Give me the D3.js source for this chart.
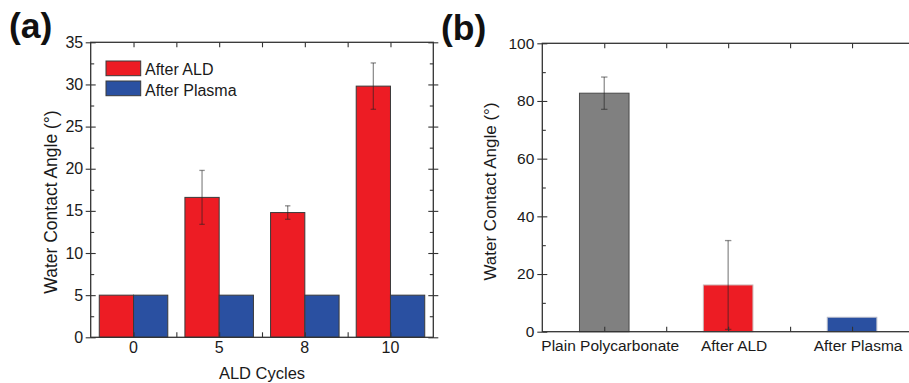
<!DOCTYPE html>
<html>
<head>
<meta charset="utf-8">
<script src="https://cdn.jsdelivr.net/npm/d3@7"></script>
<style>
  html, body { margin: 0; padding: 0; background: #fff; }
  svg { display: block; font-family: "Liberation Sans", Arial, sans-serif; }
</style>
</head>
<body>
<svg id="chart" width="909" height="383"></svg>
<script>
// Panel (a): contact angle vs. number of ALD cycles
const cycles = ["0", "5", "8", "10"];
const seriesNames = ["After ALD", "After Plasma"];
const afterALD = [5, 16.6, 14.8, 29.8];
const afterALDErr = [0, 3.2, 0.8, 2.75];
const afterPlasma = [5, 5, 5, 5];
const afterPlasmaErr = [0, 0, 0, 0];
const yTicksA = [0, 5, 10, 15, 20, 25, 30, 35];

// Panel (b): contact angle per sample
const samples = ["Plain Polycarbonate", "After ALD", "After Plasma"];
const sampleAngle = [82.7, 16.2, 5];
const sampleErr = [5.6, 15.4, 0];
const yTicksB = [0, 20, 40, 60, 80, 100];

const RED = "#ed1c24", BLUE = "#2a50a1", GRAY = "#808080";
const AXIS = "#333";

const svg = d3.select("#chart");

// Frame with ticks on all four sides: majors cross the left/right axes,
// minors point inward; top/bottom ticks point inward.
function drawFrame(g, x, y, box, yMajor, yMinor, xMajor, xMinor) {
  const {L, R, T, B} = box;
  const noLabel = () => "";
  const clean = sel => { sel.select(".domain").remove(); sel.selectAll("line").attr("stroke", AXIS).attr("stroke-width", 1.1); };
  g.append("g").attr("transform", `translate(${L},0)`).call(d3.axisRight(y).tickValues(yMajor).tickSize(5).tickFormat(noLabel)).call(clean);
  g.append("g").attr("transform", `translate(${L},0)`).call(d3.axisRight(y).tickValues(yMinor).tickSize(3.5).tickFormat(noLabel)).call(clean);
  g.append("g").attr("transform", `translate(${R},0)`).call(d3.axisLeft(y).tickValues(yMajor).tickSize(5).tickFormat(noLabel)).call(clean);
  g.append("g").attr("transform", `translate(${R},0)`).call(d3.axisRight(y).tickValues(yMajor).tickSize(5).tickFormat(noLabel)).call(clean);
  g.append("g").attr("transform", `translate(${R},0)`).call(d3.axisLeft(y).tickValues(yMinor).tickSize(3.5).tickFormat(noLabel)).call(clean);
  g.append("g").attr("transform", `translate(0,${T})`).call(d3.axisBottom(x).tickValues(xMajor.concat(xMinor)).tickSize(5).tickFormat(noLabel)).call(clean);
  g.append("g").attr("transform", `translate(0,${B})`).call(d3.axisTop(x).tickValues(xMajor.concat(xMinor)).tickSize(5).tickFormat(noLabel)).call(clean);
  g.append("rect").attr("x", L).attr("y", T).attr("width", R - L).attr("height", B - T)
    .attr("fill", "none").attr("stroke", AXIS).attr("stroke-width", 1.3);
}

function errorBar(g, cx, yScale, v, e, half) {
  if (!e) return;
  const top = yScale(v + e), bot = yScale(v - e);
  const eb = g.append("g").attr("stroke", "#222").attr("stroke-opacity", 0.5).attr("stroke-width", 1.3);
  eb.append("line").attr("x1", cx).attr("x2", cx).attr("y1", top).attr("y2", bot);
  eb.append("line").attr("x1", cx - half).attr("x2", cx + half).attr("y1", top).attr("y2", top);
  eb.append("line").attr("x1", cx - half).attr("x2", cx + half).attr("y1", bot).attr("y2", bot);
}

// ---------------- Panel (a) ----------------
{
  const box = {L: 90.7, R: 433.3, T: 42.3, B: 337.3};
  const g = svg.append("g");
  const x = d3.scaleBand().domain(cycles).range([box.L, box.R]).paddingInner(0.2).paddingOuter(0.1);
  const xs = d3.scaleBand().domain(seriesNames).range([0, x.bandwidth()]);
  const y = d3.scaleLinear().domain([0, 35]).range([box.B, box.T]);

  const series = [
    {name: seriesNames[0], values: afterALD, err: afterALDErr, color: RED},
    {name: seriesNames[1], values: afterPlasma, err: afterPlasmaErr, color: BLUE}
  ];

  series.forEach(s => {
    g.append("g").selectAll("rect").data(cycles).join("rect")
      .attr("x", c => x(c) + xs(s.name))
      .attr("y", (c, i) => y(s.values[i]))
      .attr("width", xs.bandwidth())
      .attr("height", (c, i) => y(0) - y(s.values[i]))
      .attr("fill", s.color).attr("stroke", "#3a3a3a").attr("stroke-width", 1);
  });
  series.forEach(s => {
    cycles.forEach((c, i) => errorBar(g, x(c) + xs(s.name) + xs.bandwidth() / 2, y, s.values[i], s.err[i], 2.7));
  });

  // tick positions along x: category centres and the midpoints between them
  const step = x.step();
  const centres = cycles.map(c => x(c) + x.bandwidth() / 2);
  const mids = centres.slice(1).map(c => c - step / 2);
  const xl = d3.scaleLinear().domain([box.L, box.R]).range([box.L, box.R]);
  const yMinor = d3.range(2.5, 35, 5);
  drawFrame(g, xl, y, box, yTicksA, yMinor, centres, mids);

  // y tick labels
  g.append("g").attr("transform", `translate(${box.L},0)`)
    .call(d3.axisLeft(y).tickValues(yTicksA).tickSize(5).tickPadding(2.5))
    .call(sel => { sel.select(".domain").remove(); sel.selectAll("line").attr("stroke", AXIS).attr("stroke-width", 1.1); })
    .selectAll("text").attr("font-size", 16).attr("fill", "#1a1a1a").attr("font-family", null);

  // x tick labels
  g.append("g").attr("transform", `translate(0,${box.B})`)
    .call(d3.axisBottom(x).tickSize(0).tickPadding(4.8))
    .call(sel => sel.select(".domain").remove())
    .selectAll("text").attr("font-size", 16).attr("fill", "#1a1a1a").attr("font-family", null);

  g.append("text").attr("x", (box.L + box.R) / 2).attr("y", 379)
    .attr("text-anchor", "middle").attr("font-size", 16.5).attr("fill", "#1a1a1a").text("ALD Cycles");
  g.append("text").attr("transform", "translate(57,202) rotate(-90)")
    .attr("text-anchor", "middle").attr("font-size", 17.5).attr("fill", "#1a1a1a").text("Water Contact Angle (°)");

  // legend
  const lg = g.append("g");
  series.forEach((s, i) => {
    lg.append("rect").attr("x", 106).attr("y", 61 + i * 20).attr("width", 34.7).attr("height", 14.7)
      .attr("fill", s.color).attr("stroke", "#3a3a3a").attr("stroke-width", 1);
    lg.append("text").attr("x", 145).attr("y", 75 + i * 20.5).attr("font-size", 16).attr("fill", "#1a1a1a").text(s.name);
  });

  svg.append("text").attr("x", 9).attr("y", 38).attr("font-size", 35.5).attr("font-weight", "bold").attr("fill", "#111").text("(a)");
}

// ---------------- Panel (b) ----------------
{
  const box = {L: 542.3, R: 914, T: 43.3, B: 331.7};
  const g = svg.append("g");
  const x = d3.scaleBand().domain(samples).range([box.L, box.R]).paddingInner(0.6).paddingOuter(0.3);
  const y = d3.scaleLinear().domain([0, 100]).range([box.B, box.T]);
  const colors = [GRAY, RED, BLUE];
  const strokes = ["#4a4a4a", "#c9b5b5", "#b5b9c9"];

  g.append("g").selectAll("rect").data(samples).join("rect")
    .attr("x", d => x(d)).attr("y", (d, i) => y(sampleAngle[i]))
    .attr("width", x.bandwidth()).attr("height", (d, i) => y(0) - y(sampleAngle[i]))
    .attr("fill", (d, i) => colors[i]).attr("stroke", (d, i) => strokes[i]).attr("stroke-width", 1);
  samples.forEach((d, i) => errorBar(g, x(d) + x.bandwidth() / 2, y, sampleAngle[i], sampleErr[i], 3.2));

  const step = x.step();
  const centres = samples.map(d => x(d) + x.bandwidth() / 2);
  const mids = centres.slice(1).map(c => c - step / 2);
  const xl = d3.scaleLinear().domain([box.L, box.R]).range([box.L, box.R]);
  const yMinor = d3.range(10, 100, 20);
  drawFrame(g, xl, y, box, yTicksB, yMinor, centres, mids);

  g.append("g").attr("transform", `translate(${box.L},0)`)
    .call(d3.axisLeft(y).tickValues(yTicksB).tickSize(5).tickPadding(3))
    .call(sel => { sel.select(".domain").remove(); sel.selectAll("line").attr("stroke", AXIS).attr("stroke-width", 1.1); })
    .selectAll("text").attr("font-size", 15.5).attr("fill", "#1a1a1a").attr("font-family", null);

  g.append("g").attr("transform", `translate(6,${box.B})`)
    .call(d3.axisBottom(x).tickSize(0).tickPadding(8.5))
    .call(sel => sel.select(".domain").remove())
    .selectAll("text").attr("font-size", 15.5).attr("fill", "#1a1a1a").attr("font-family", null);

  g.append("text").attr("transform", "translate(496,191.5) rotate(-90)")
    .attr("text-anchor", "middle").attr("font-size", 17).attr("fill", "#1a1a1a").text("Water Contact Angle (°)");

  svg.append("text").attr("x", 441).attr("y", 40).attr("font-size", 35.5).attr("font-weight", "bold").attr("fill", "#111").text("(b)");
}
</script>
</body>
</html>
